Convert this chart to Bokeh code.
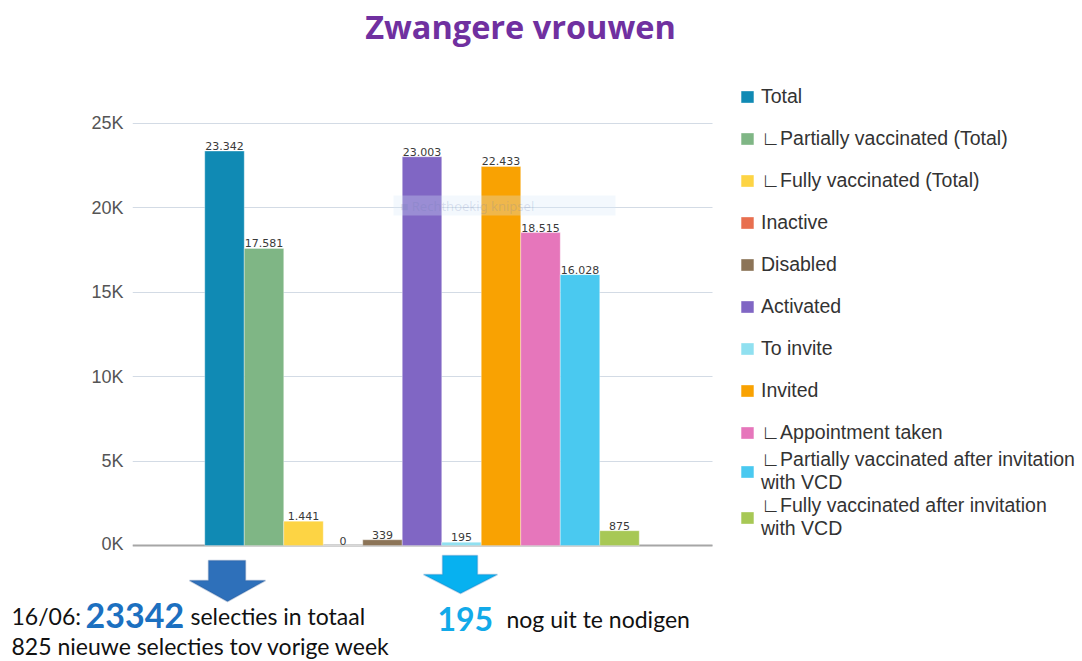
from bokeh.plotting import figure
from bokeh.layouts import column
from bokeh.models import (ColumnDataSource, Range1d, FixedTicker, Legend, LegendItem, Grid,
                          Label, PolyAnnotation, BoxAnnotation)
from bokeh.core.properties import value
from bokeh.embed import file_html
from bokeh.resources import INLINE

# ---------------- data ----------------
categories = ["Total", "Partially vaccinated (Total)", "Fully vaccinated (Total)", "Inactive",
              "Disabled", "Activated", "To invite", "Invited", "Appointment taken",
              "Partially vaccinated after invitation with VCD",
              "Fully vaccinated after invitation with VCD"]
legend_labels = ["Total", "∟Partially vaccinated (Total)", "∟Fully vaccinated (Total)", "Inactive",
                 "Disabled", "Activated", "To invite", "Invited", "∟Appointment taken",
                 "∟Partially vaccinated after invitation\nwith VCD",
                 "∟Fully vaccinated after invitation\nwith VCD"]
counts = [23342, 17581, 1441, 0, 339, 23003, 195, 22433, 18515, 16028, 875]
colors = ["#108ab4", "#7fb685", "#fdd444", "#e86f4f", "#8c7457", "#8066c4",
          "#90e0f0", "#f9a202", "#e676bb", "#4ac9f0", "#a7c855"]
y_ticks = [0, 5000, 10000, 15000, 20000, 25000]
y_tick_labels = ["0K", "5K", "10K", "15K", "20K", "25K"]

source = ColumnDataSource(dict(
    x=list(range(len(categories))),
    category=categories,
    count=counts,
    color=colors,
    legend=legend_labels,
    label=[f"{c:,}".replace(",", ".") for c in counts],
))

# ---------------- chart figure ----------------
W, H_TOP = 1082, 553
FL, FB = 132, H_TOP        # chart frame left / bottom (px)
ZERO_Y = 545               # pixel row of value 0
PX_PER_SLOT = 39.5
X0 = -(224 - FL) / PX_PER_SLOT
X1 = X0 + (W - FL) / PX_PER_SLOT
X_GRID_END = X0 + (712 - FL) / PX_PER_SLOT
K = 16.9 / 1000            # px per unit on y

p = figure(width=W, height=H_TOP, output_backend="svg", toolbar_location=None,
           x_range=Range1d(X0, X1), y_range=Range1d(-(FB - ZERO_Y) / K, ZERO_Y / K),
           x_axis_location=None,
           min_border_left=FL, min_border_right=0, min_border_top=0, min_border_bottom=0)
p.frame_align = False
p.outline_line_color = None
p.background_fill_color = "white"
p.border_fill_color = "white"
p.xgrid.visible = False

p.yaxis.ticker = FixedTicker(ticks=y_ticks)
p.yaxis.major_label_overrides = {t: l for t, l in zip(y_ticks, y_tick_labels)}
p.yaxis.axis_line_color = None
p.yaxis.major_tick_line_color = None
p.yaxis.minor_tick_line_color = None
p.yaxis.major_tick_out = 0
p.yaxis.major_label_standoff = 9
p.yaxis.major_label_text_font = "Liberation Sans"
p.yaxis.major_label_text_font_size = "18px"
p.yaxis.major_label_text_color = "#555555"
p.ygrid.grid_line_color = "#d3dbe5"
p.ygrid.grid_line_width = 1
p.ygrid.cross_bounds = (X0, X_GRID_END)

base = Grid(dimension=1, ticker=FixedTicker(ticks=[0]), grid_line_color="#a6a6a6",
            grid_line_width=2, cross_bounds=(X0, X_GRID_END))
p.add_layout(base)

r = p.vbar(x="x", top="count", width=1.0, source=source,
           fill_color="color", line_color="white", line_alpha=0.35, line_width=1)

p.text(x="x", y="count", text="label", source=source,
       text_align="center", text_baseline="bottom", y_offset=-1,
       text_font=value("DejaVu Sans"), text_font_size="11px", text_color="#3a3a3a")

# legends (single-line items, then the two wrapped items)
legend_style = dict(padding=0, margin=0, glyph_width=16, glyph_height=15, label_standoff=6,
                    label_height=20, label_text_font="Liberation Sans",
                    label_text_font_size="19.5px", label_text_color="#333333",
                    background_fill_alpha=0, border_line_color=None)
items = [LegendItem(label=legend_labels[i], renderers=[r], index=i) for i in range(len(categories))]
legend_a = Legend(items=items[:9], location=(739 - FL, FB - 85 - 359), spacing=19, **legend_style)
legend_b = Legend(items=items[9:], location=(739 - FL, FB - 448 - 92), spacing=0, **legend_style)
p.add_layout(legend_a)
p.add_layout(legend_b)


def sx(px):
    return px - FL


def sy(py):
    return FB - py


# title
p.add_layout(Label(x=sx(520), y=sy(26), x_units="screen", y_units="screen",
                   text="Zwangere vrouwen", text_align="center", text_baseline="alphabetic",
                   text_font="Open Sans", text_font_style="bold", text_font_size="32.5px",
                   text_color="#7030a0"))

# faint snipping-tool watermark
p.add_layout(BoxAnnotation(left=sx(393), right=sx(615), bottom=sy(215), top=sy(195),
                           left_units="screen", right_units="screen",
                           bottom_units="screen", top_units="screen",
                           fill_color="#d8e8f8", fill_alpha=0.3, line_color=None))
p.add_layout(Label(x=sx(400), y=sy(205), x_units="screen", y_units="screen",
                   text="■   Rechthoekig knipsel", text_baseline="alphabetic",
                   text_font="Noto Sans", text_font_size="13px", text_color="#6a78b0",
                   text_alpha=0.2))

# ---------------- strip below the chart: arrows and notes ----------------
q = figure(width=W, height=661 - H_TOP, output_backend="svg", toolbar_location=None,
           x_range=Range1d(0, W), y_range=Range1d(661, H_TOP),
           x_axis_location=None, y_axis_location=None,
           min_border_left=0, min_border_right=0, min_border_top=0, min_border_bottom=0)
q.frame_align = False
q.outline_line_color = None
q.grid.visible = False


def arrow(pts, fill, line):
    return PolyAnnotation(xs=[a for a, _ in pts], ys=[b for _, b in pts],
                          fill_color=fill, fill_alpha=1, line_color=line, line_width=1.5)


q.add_layout(arrow([(208, 560), (245, 560), (245, 580), (265, 580), (227, 601), (189, 580), (208, 580)],
                   "#2e70ba", "#2b5592"))
q.add_layout(arrow([(442, 555), (477, 555), (477, 574), (497, 574), (460, 593), (423, 574), (442, 574)],
                   "#07b1f0", "#2e75b6"))


def txt(x, y, s, size, color="#111111", bold=False):
    q.add_layout(Label(x=x, y=y, text=s, text_baseline="alphabetic", text_font="Lato",
                       text_font_style="bold" if bold else "normal",
                       text_font_size=size, text_color=color))


txt(11, 615, "16/06:", "23px")
txt(85, 615, "23342", "34px", "#1c70c0", True)
txt(190, 615, "selecties in totaal", "23px")
txt(11, 645, "825 nieuwe selecties tov vorige week", "23px")
txt(437, 618, "195", "32px", "#12aae9", True)
txt(506, 618, "nog uit te nodigen", "23px")

layout = column(p, q, spacing=0)
open("out.html", "w").write(file_html(layout, INLINE))
